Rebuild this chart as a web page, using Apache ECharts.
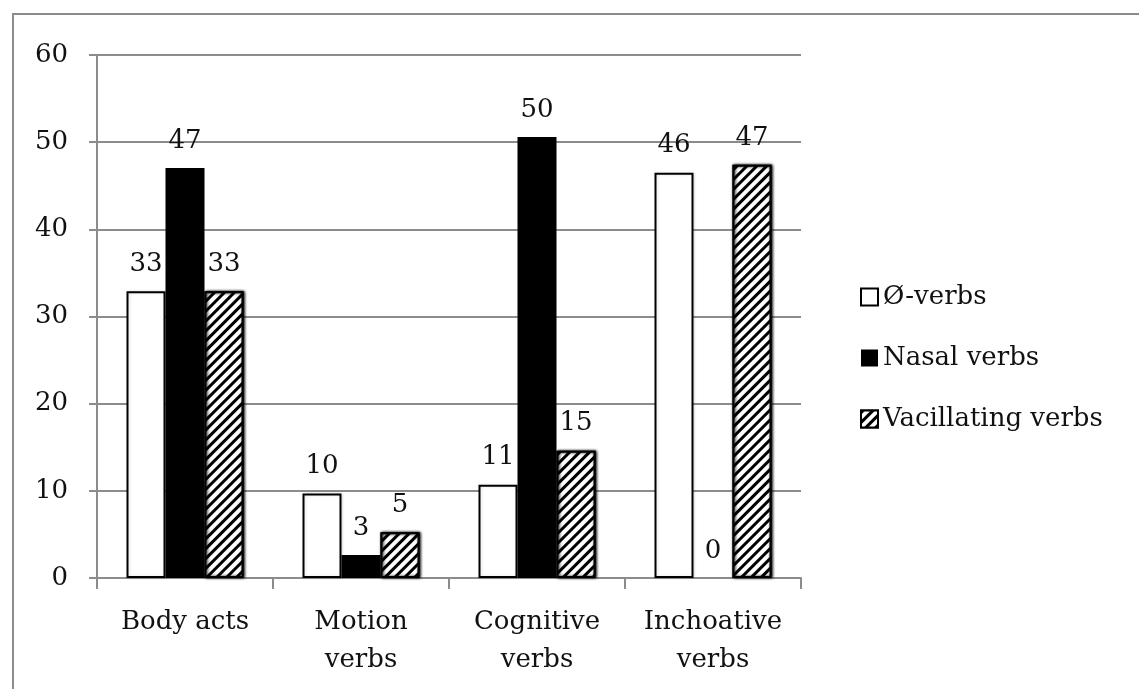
<!DOCTYPE html>
<html>
<head>
<meta charset="utf-8">
<script src="https://cdn.jsdelivr.net/npm/echarts@6/dist/echarts.min.js"></script>
<style>
html,body{margin:0;padding:0;background:#fff;}
#chart{width:1139px;height:689px;}
</style>
</head>
<body>
<div id="chart"></div>
<script>
var categories = ['Body acts', 'Motion verbs', 'Cognitive verbs', 'Inchoative verbs'];
var seriesNames = ['\u00D8-verbs', 'Nasal verbs', 'Vacillating verbs'];
var zeroVerbs = [32.9, 9.7, 10.7, 46.5];
var nasalVerbs = [47.05, 2.65, 50.6, 0];
var vacillatingVerbs = [32.9, 5.25, 14.6, 47.4];
var zeroLabels = ['33', '10', '11', '46'];
var nasalLabels = ['47', '3', '50', '0'];
var vacillatingLabels = ['33', '5', '15', '47'];
var yTicks = [0, 10, 20, 30, 40, 50, 60];

var FONT = 'DejaVu Serif';
var TEXT = '#111';
var GRID = '#8c8c8c';

function labelCfg(arr) {
  return {
    show: true,
    position: 'top',
    distance: 14,
    fontFamily: FONT,
    fontSize: 26,
    color: TEXT,
    formatter: function (p) { return arr[p.dataIndex]; }
  };
}
var shadow = { shadowBlur: 3, shadowColor: 'rgba(0,0,0,0.12)', shadowOffsetX: 1, shadowOffsetY: 0 };

var chart = echarts.init(document.getElementById('chart'), null, { renderer: 'canvas' });
chart.setOption({
  animation: false,
  backgroundColor: '#fff',
  graphic: [{
    type: 'rect',
    shape: { x: 13, y: 14, width: 2000, height: 2000 },
    style: { fill: 'none', stroke: GRID, lineWidth: 2 },
    silent: true
  }],
  grid: { left: 97, right: 338, top: 55, bottom: 111, containLabel: false },
  legend: {
    orient: 'vertical',
    left: 860,
    top: 284,
    padding: 0,
    itemWidth: 17,
    itemHeight: 17,
    itemGap: 35,
    icon: 'rect',
    data: seriesNames,
    textStyle: { fontFamily: FONT, fontSize: 26, color: TEXT, lineHeight: 26 }
  },
  xAxis: {
    type: 'category',
    data: categories,
    axisLine: { show: true, lineStyle: { color: GRID, width: 2 } },
    axisTick: { show: true, length: 11, alignWithLabel: false, lineStyle: { color: GRID, width: 2 } },
    axisLabel: {
      margin: 25,
      fontFamily: FONT,
      fontSize: 26,
      lineHeight: 38,
      color: TEXT,
      interval: 0,
      formatter: function (v) { return v.replace(' verbs', '\nverbs'); }
    }
  },
  yAxis: {
    type: 'value',
    min: yTicks[0],
    max: yTicks[yTicks.length - 1],
    interval: 10,
    axisLine: { show: true, lineStyle: { color: GRID, width: 2 } },
    axisTick: { show: true, length: 8, lineStyle: { color: GRID, width: 2 } },
    splitLine: { show: true, lineStyle: { color: GRID, width: 2 } },
    axisLabel: { margin: 29, fontFamily: FONT, fontSize: 26, color: TEXT }
  },
  series: [
    {
      name: seriesNames[0],
      type: 'bar',
      data: zeroVerbs,
      barWidth: 39,
      barGap: '0%',
      itemStyle: Object.assign({ color: '#fff', borderColor: '#000', borderWidth: 2 }, shadow),
      label: labelCfg(zeroLabels)
    },
    {
      name: seriesNames[1],
      type: 'bar',
      data: nasalVerbs,
      barWidth: 39,
      barGap: '0%',
      itemStyle: { color: '#000', borderWidth: 0 },
      label: labelCfg(nasalLabels)
    },
    {
      name: seriesNames[2],
      type: 'bar',
      data: vacillatingVerbs,
      barWidth: 39,
      barGap: '0%',
      itemStyle: Object.assign({
        color: '#fff', borderColor: '#000', borderWidth: 2,
        decal: {
          symbol: 'rect',
          color: '#000',
          backgroundColor: '#fff',
          dashArrayX: [1, 0],
          dashArrayY: [3, 3.5],
          rotation: -Math.PI / 4,
          symbolSize: 1
        }
      }, shadow),
      label: labelCfg(vacillatingLabels)
    }
  ]
});
</script>
</body>
</html>
